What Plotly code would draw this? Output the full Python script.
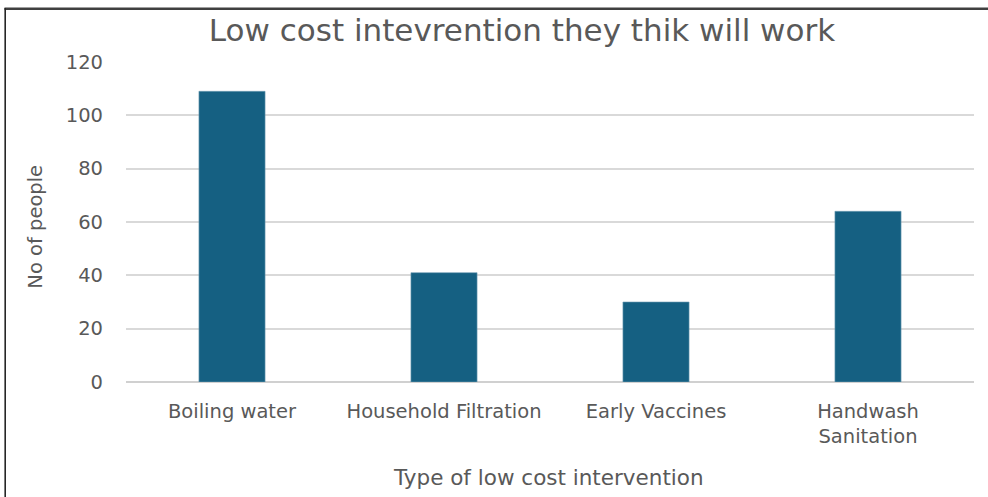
import plotly.graph_objects as go

# Survey responses: low cost interventions people think will work
categories = ["Boiling water", "Household Filtration", "Early Vaccines", "Handwash Sanitation"]
tick_labels = ["Boiling water", "Household Filtration", "Early Vaccines", "Handwash<br>Sanitation"]
people = [109, 41, 30, 64]
y_ticks = [0, 20, 40, 60, 80, 100, 120]

W, H = 988, 497
M_L, M_R, M_T, M_B = 126, 14, 62, 115
FONT = "DejaVu Sans"
TEXT = "#595959"

fig = go.Figure(
    go.Bar(
        x=categories,
        y=people,
        marker=dict(color="#156082", line=dict(color="#6f9cb3", width=0.6)),
        hoverinfo="x+y",
    )
)

plot_w = W - M_L - M_R
plot_h = H - M_T - M_B

def px_x(p):
    return (p - M_L) / plot_w

def px_y(p):
    return (H - M_B - p) / plot_h

fig.update_layout(
    width=W,
    height=H,
    margin=dict(l=M_L, r=M_R, t=M_T, b=M_B),
    paper_bgcolor="white",
    plot_bgcolor="white",
    bargap=0.688,
    showlegend=False,
    font=dict(family=FONT, color=TEXT),
    title=dict(
        text="Low cost intevrention they thik will work",
        font=dict(family=FONT, size=31, color=TEXT),
        x=522 / W,
        xanchor="center",
        xref="container",
        y=1 - 30 / H,
        yanchor="middle",
        yref="container",
    ),
    xaxis=dict(
        tickmode="array",
        tickvals=categories,
        ticktext=tick_labels,
        tickfont=dict(family=FONT, size=19.5, color=TEXT),
        ticks="",
        ticklabelstandoff=15,
        showline=False,
        showgrid=False,
        zeroline=False,
    ),
    yaxis=dict(
        range=[0, 120],
        tickmode="array",
        tickvals=y_ticks,
        tickfont=dict(family=FONT, size=19.5, color=TEXT),
        ticks="",
        ticklabelstandoff=22,
        showgrid=True,
        gridcolor="#d9d9d9",
        gridwidth=1.5,
        zeroline=True,
        zerolinecolor="#d0d0d0",
        zerolinewidth=1.5,
        showline=False,
    ),
    annotations=[
        dict(
            text="Type of low cost intervention",
            xref="paper", yref="paper",
            x=px_x(548), y=px_y(477.5),
            xanchor="center", yanchor="middle",
            showarrow=False,
            font=dict(family=FONT, size=21.5, color=TEXT),
        ),
        dict(
            text="No of people",
            xref="paper", yref="paper",
            x=px_x(36), y=px_y(226.7),
            xanchor="center", yanchor="middle",
            textangle=-90,
            showarrow=False,
            font=dict(family=FONT, size=19.5, color=TEXT),
        ),
    ],
    shapes=[
        # frame edges around the chart
        dict(type="line", xref="paper", yref="paper",
             x0=px_x(4.5), x1=px_x(W), y0=px_y(8.8), y1=px_y(8.8),
             line=dict(color="#404040", width=2.4)),
        dict(type="line", xref="paper", yref="paper",
             x0=px_x(5.2), x1=px_x(5.2), y0=px_y(8), y1=px_y(H),
             line=dict(color="#262626", width=1.6)),
    ],
)

fig.write_html("out.html")
